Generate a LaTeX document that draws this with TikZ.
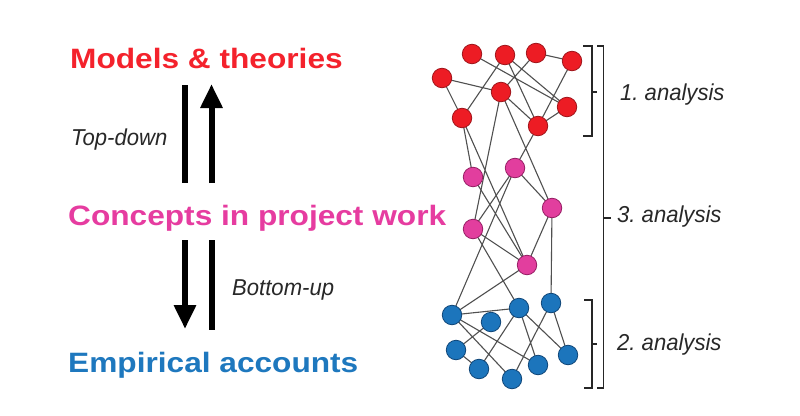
\documentclass[tikz,border=0pt]{standalone}
\usepackage{fontspec}
\setmainfont{Liberation Sans}
\newfontfamily\titlefont[FakeStretch=1.13]{Liberation Sans}
\newfontfamily\labelfont[FakeStretch=0.96]{Liberation Sans}
\usetikzlibrary{arrows.meta,backgrounds}
\pgfdeclarelayer{edgelayer}
\pgfsetlayers{background,edgelayer,main}
\frenchspacing
\definecolor{redT}{RGB}{244,34,44}
\definecolor{pinkT}{RGB}{230,60,160}
\definecolor{blueT}{RGB}{30,120,190}
\definecolor{redN}{RGB}{237,28,36}
\definecolor{redB}{RGB}{160,20,26}
\definecolor{pinkN}{RGB}{226,62,158}
\definecolor{pinkB}{RGB}{150,30,100}
\definecolor{blueN}{RGB}{28,117,188}
\definecolor{blueB}{RGB}{15,70,120}
\definecolor{edgegrey}{RGB}{80,80,80}
\definecolor{labelgrey}{RGB}{40,40,40}
\tikzset{
  dot/.style={circle, minimum size=19.5pt, inner sep=0pt, line width=0.8pt},
  rdot/.style={dot, fill=redN, draw=redB},
  pdot/.style={dot, fill=pinkN, draw=pinkB},
  bdot/.style={dot, fill=blueN, draw=blueB},
  netlink/.style={draw=edgegrey, line width=1.1pt},
  bigtitle/.style={anchor=base west, inner sep=0pt, font=\titlefont\bfseries\fontsize{28}{30}\selectfont},
  smalllabel/.style={anchor=west, inner sep=0pt, text=labelgrey, font=\labelfont\itshape\fontsize{23}{25}\selectfont},
  bracketline/.style={draw=black!85, line width=1.8pt},
  fatline/.style={draw=black, line width=6pt},
  fatarrow/.style={draw=black, line width=6pt, -{Triangle[width=21pt,length=24pt]}}
}
\begin{document}
\begin{tikzpicture}[x=1pt,y=-1pt]
\begin{pgfonlayer}{background}
\fill[white] (0,0) rectangle (800,415);
\end{pgfonlayer}
\useasboundingbox (0,0) rectangle (800,415);

% titles
\node[bigtitle, text=redT] (models) at (70,68) {Models \& theories};
\node[bigtitle, text=pinkT] (concepts) at (68,225) {Concepts in project work};
\node[bigtitle, text=blueT] (empirical) at (68,372) {Empirical accounts};

% arrows
\coordinate (a1s) at (185,85);  \coordinate (a1e) at (185,183);
\coordinate (a2s) at (211.5,183); \coordinate (a2e) at (211.5,84);
\coordinate (a3s) at (185,240); \coordinate (a3e) at (185,329);
\coordinate (a4s) at (211.5,240); \coordinate (a4e) at (211.5,330);
\draw[fatline] (a1s) -- (a1e);
\draw[fatarrow] (a2s) -- (a2e);
\draw[fatarrow] (a3s) -- (a3e);
\draw[fatline] (a4s) -- (a4e);
\node[smalllabel] (topdown) at (71,140) {Top-down};
\node[smalllabel] (bottomup) at (232,290) {Bottom-up};

% network nodes
\node[rdot] (R1) at (472,54) {};
\node[rdot] (R2) at (505,55) {};
\node[rdot] (R3) at (536,53) {};
\node[rdot] (R4) at (572,61) {};
\node[rdot] (R5) at (442,78) {};
\node[rdot] (R6) at (501,92) {};
\node[rdot] (R7) at (567,107) {};
\node[rdot] (R8) at (462,118) {};
\node[rdot] (R9) at (538,126) {};
\node[pdot] (P1) at (473,177) {};
\node[pdot] (P2) at (515,168) {};
\node[pdot] (P3) at (552,208) {};
\node[pdot] (P4) at (473,229) {};
\node[pdot] (P5) at (527,265) {};
\node[bdot] (B1) at (452,315) {};
\node[bdot] (B2) at (491,322) {};
\node[bdot] (B3) at (519,308) {};
\node[bdot] (B4) at (551,303) {};
\node[bdot] (B5) at (456,350) {};
\node[bdot] (B6) at (479,369) {};
\node[bdot] (B7) at (512,379) {};
\node[bdot] (B8) at (538,365) {};
\node[bdot] (B9) at (568,355) {};

\begin{pgfonlayer}{edgelayer}
\draw[netlink] (R3.center)--(R4.center) (R5.center)--(R6.center) (R5.center)--(R8.center)
  (R8.center)--(R2.center) (R3.center)--(R6.center) (R1.center)--(R7.center)
  (R2.center)--(R7.center) (R2.center)--(R9.center) (R4.center)--(R9.center)
  (R6.center)--(R9.center) (R9.center)--(R7.center);
\draw[netlink] (R8.center)--(P1.center) (R8.center)--(P5.center) (R6.center)--(P4.center)
  (R6.center)--(P3.center) (R9.center)--(P2.center);
\draw[netlink] (P2.center)--(P3.center) (P3.center)--(P5.center) (P3.center)--(B4.center)
  (P2.center)--(P4.center) (P2.center)--(B1.center) (P1.center)--(P5.center)
  (P4.center)--(P5.center) (P4.center)--(B3.center) (P5.center)--(B1.center);
\draw[netlink] (B1.center)--(B3.center) (B1.center)--(B7.center) (B1.center)--(B8.center)
  (B2.center)--(B5.center) (B3.center)--(B6.center) (B3.center)--(B8.center)
  (B3.center)--(B9.center) (B4.center)--(B7.center) (B4.center)--(B9.center)
  (B5.center)--(B6.center);
\end{pgfonlayer}

% brackets
\draw[bracketline] (583,46) -- (592,46) -- (592,136) -- (583,136);
\draw[bracketline] (592,92) -- (597,92);
\draw[bracketline] (597,46) -- (603.5,46) -- (603.5,388) -- (597,388);
\draw[bracketline] (603.5,218) -- (611,218);
\draw[bracketline] (584,300) -- (592,300) -- (592,388) -- (584,388);
\draw[bracketline] (592,344) -- (597,344);

\node[smalllabel] (an1) at (620,95) {1. analysis};
\node[smalllabel] (an3) at (617,217) {3. analysis};
\node[smalllabel] (an2) at (617,345) {2. analysis};
\end{tikzpicture}
\end{document}
